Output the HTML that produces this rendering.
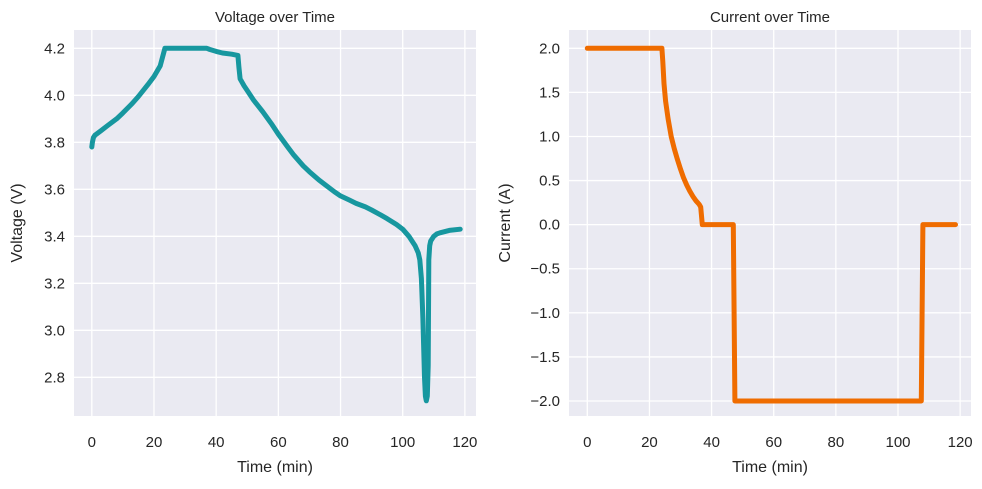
<!DOCTYPE html>
<html><head><meta charset="utf-8"><style>
body{margin:0;background:#fff;font-family:"Liberation Sans",sans-serif;}
svg text{font-family:"Liberation Sans",sans-serif;fill:#262626;}
</style></head><body>
<svg id="c" width="982" height="484"></svg>
<script>
const voltTime=[0,0.2,0.5,1,3,5,8,10,13,15,18,20,22,23.5,37,38,40,42,45,47,47.3,47.7,49,50,52,55,58,60,63,65,68,70,73,75,78,80,83,85,88,90,93,95,98,100,102,103,104,105,105.5,106,106.5,107,107.3,107.6,107.9,108.2,108.4,108.7,109,110,111,112,115,118.5];
const voltVals=[3.78,3.80,3.82,3.83,3.85,3.87,3.90,3.925,3.965,3.995,4.045,4.08,4.125,4.20,4.20,4.195,4.187,4.18,4.175,4.17,4.12,4.07,4.04,4.02,3.98,3.93,3.875,3.835,3.78,3.745,3.70,3.675,3.64,3.62,3.59,3.572,3.553,3.54,3.525,3.512,3.49,3.475,3.45,3.43,3.40,3.38,3.36,3.33,3.30,3.22,3.05,2.80,2.72,2.70,2.72,2.85,3.30,3.36,3.38,3.40,3.41,3.415,3.425,3.43];
const curTime=[0,24,24.3,24.7,25.2,26,27,28,29,30,31,32,33,34,35,36,36.5,37,47,47.5,107.5,108,118.5];
const curVals=[2,2,1.85,1.6,1.4,1.2,1.0,0.86,0.74,0.63,0.53,0.45,0.38,0.32,0.27,0.23,0.2,0,0,-2,-2,0,0];
const xTicks=[0,20,40,60,80,100,120];
const vTicks=[2.8,3.0,3.2,3.4,3.6,3.8,4.0,4.2];
const cTicks=[-2.0,-1.5,-1.0,-0.5,0.0,0.5,1.0,1.5,2.0];
const NS='http://www.w3.org/2000/svg';
const svg=document.getElementById('c');
function mk(tag,attrs,parent){const e=document.createElementNS(NS,tag);for(const k in attrs)e.setAttribute(k,attrs[k]);(parent||svg).appendChild(e);return e;}
function panel(o){
  const g=mk('g',{});
  
  
  const sx=v=>o.x0+(v-o.xmin)*(o.x1-o.x0)/(o.xmax-o.xmin);
  const sy=v=>o.y0+(v-o.ymin)*(o.y1-o.y0)/(o.ymax-o.ymin);
  const bg=mk('rect',{x:o.left,y:30,width:o.right-o.left,height:386,fill:'#eaeaf2'},g);
  
  
  xTicks.forEach(t=>{
    mk('line',{x1:sx(t),x2:sx(t),y1:30,y2:416,stroke:'#fff','stroke-width':1.3},g);
    const tx=mk('text',{x:sx(t),y:447,'font-size':15,'text-anchor':'middle'},g);tx.textContent=t;
    
    
  });
  o.ticks.forEach(t=>{
    mk('line',{x1:o.left,x2:o.right,y1:sy(t),y2:sy(t),stroke:'#fff','stroke-width':1.3},g);
    const tx=mk('text',{x:o.left-9,y:sy(t)+5,'font-size':15,'text-anchor':'end'},g);
    tx.textContent=o.fmt(t);
    
    
  });
  const d=o.xs.map((v,i)=>(i?'L':'M')+sx(v).toFixed(1)+','+sy(o.ys[i]).toFixed(1)).join('');
  const p=mk('path',{d:d,fill:'none',stroke:o.color,'stroke-width':5,'stroke-linejoin':'round','stroke-linecap':'round'},g);
  
  
  const cx=(o.left+o.right)/2;
  const t1=mk('text',{x:cx,y:22,'font-size':15,'text-anchor':'middle'},g);t1.textContent=o.title;
  
  
  const t2=mk('text',{x:cx,y:472,'font-size':16,'text-anchor':'middle'},g);t2.textContent='Time (min)';
  
  
  const t3=mk('text',{x:0,y:0,'font-size':16,'text-anchor':'middle',transform:`translate(${o.ylabX},223) rotate(-90)`},g);t3.textContent=o.ylabel;
  
  
}
panel({name:'voltage',left:74,right:476,x0:91.8,x1:402.7,xmin:0,xmax:100,y0:48.3,y1:377.3,ymin:4.2,ymax:2.8,
  ticks:vTicks,fmt:t=>t.toFixed(1),xs:voltTime,ys:voltVals,color:'#17979f',title:'Voltage over Time',ylabel:'Voltage (V)',ylabX:22});
panel({name:'current',left:569,right:971,x0:587.3,x1:898,xmin:0,xmax:100,y0:48.3,y1:401,ymin:2,ymax:-2,
  ticks:cTicks,fmt:t=>t.toFixed(1).replace('-','\u2212'),xs:curTime,ys:curVals,color:'#ef6c00',title:'Current over Time',ylabel:'Current (A)',ylabX:510});
</script>
</body></html>
